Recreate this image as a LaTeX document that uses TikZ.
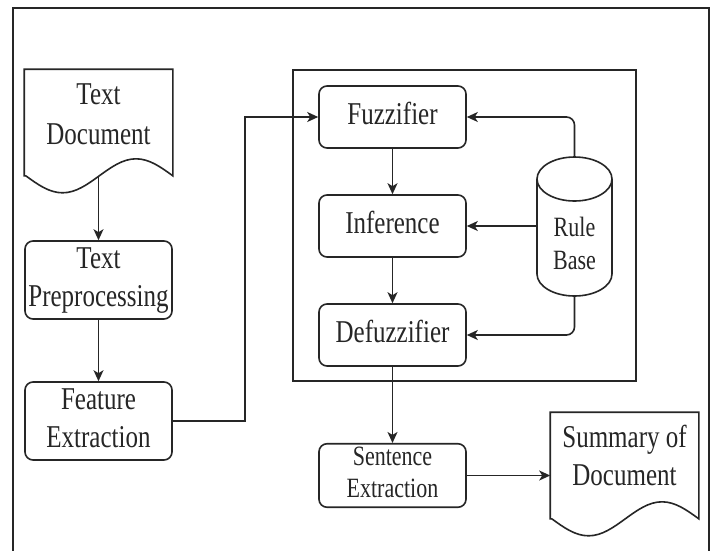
\documentclass[tikz,border=0pt]{standalone}
\usepackage{fontspec}
\setmainfont{Liberation Serif}
\usetikzlibrary{arrows.meta}
\newcommand\lbl[3]{\scalebox{1}[1.27]{\fontsize{#1}{#2}\selectfont\begin{tabular}{@{}c@{}}#3\end{tabular}}}
\begin{document}
\begin{tikzpicture}[x=1pt,y=-1pt, line width=1.6pt, color=black!85,
 box/.style={draw, rounded corners=8pt, minimum width=147pt, minimum height=62pt, inner sep=0pt},
 plain/.style={inner sep=0pt, minimum width=147pt},
 txt/.style={inner sep=0pt},
 arr/.style={-{Stealth[length=11pt,width=10pt,inset=3pt]}, line width=1.6pt}]
\useasboundingbox (0,0) rectangle (715,550);
\fill[white] (0,0) rectangle (715,550);
\draw[line width=1.8pt] (13,552) -- (13,8) -- (709,8) -- (709,552);

% left column
\node[plain, minimum height=105pt] (doc) at (98.5,122.5) {};
\draw (doc.south west) -- (doc.north west) -- (doc.north east) -- (doc.south east)
  sin ++(-36.75,-17) cos ++(-36.75,17) sin ++(-36.75,17) cos ++(-36.75,-17) -- cycle;
\node[txt] (doctxt) at ([yshift=6pt]doc.center) {\lbl{25}{31}{Text\\Document}};
\node[box, minimum height=78pt] (pre) at (98.5,280) {\lbl{25}{30}{Text\\Preprocessing}};
\node[box, minimum height=78pt] (fe) at (98.5,421) {\lbl{25}{30}{Feature\\Extraction}};

% fuzzy system
\node[draw, inner sep=0pt, minimum width=343pt, minimum height=311pt] (fis) at (464.5,225.5) {};
\node[box] (fuz) at (392.5,117) {\lbl{25}{30}{Fuzzifier}};
\node[box] (inf) at (392.5,226) {\lbl{25}{30}{Inference}};
\node[box] (def) at (392.5,335) {\lbl{25}{30}{Defuzzifier}};

% rule base cylinder
\node[inner sep=0pt, minimum width=75pt, minimum height=139pt] (rb) at (574.5,226.5) {};
\draw (612,179) arc[start angle=0, end angle=360, x radius=37.5pt, y radius=22pt];
\draw (537,179) -- (537,274) arc[start angle=180, end angle=360, x radius=37.5pt, y radius=22pt] -- (612,179);
\node[txt] (rbtxt) at ([yshift=-20pt]rb.center) {\lbl{22}{26}{Rule\\Base}};

% output
\node[box] (se) at (392.5,475.5) {\lbl{22}{25}{Sentence\\Extraction}};
\node[plain, minimum height=105pt] (sum) at (624.5,465.5) {};
\draw (sum.south west) -- (sum.north west) -- (sum.north east) -- (sum.south east)
  sin ++(-36.75,-17) cos ++(-36.75,17) sin ++(-36.75,17) cos ++(-36.75,-17) -- cycle;
\node[txt] (sumtxt) at ([yshift=7pt]sum.center) {\lbl{25}{30}{Summary of\\Document}};

% connectors
\coordinate (bend) at (245,421);
\draw[arr] (doc.south) -- (pre.north);
\draw[arr] (pre.south) -- (fe.north);
\draw[arr] (fe.east) -- (bend) |- (fuz.west);
\draw[arr] (fuz.south) -- (inf.north);
\draw[arr] (inf.south) -- (def.north);
\draw[arr, rounded corners=8pt] (rb.north) |- (fuz.east);
\draw[arr] (inf.east -| rb.west) -- (inf.east);
\draw[arr, rounded corners=8pt] (rb.south) |- (def.east);
\draw[arr] (def.south) -- (se.north);
\draw[arr] (se.east) -- (se.east -| sum.west);
\end{tikzpicture}
\end{document}
